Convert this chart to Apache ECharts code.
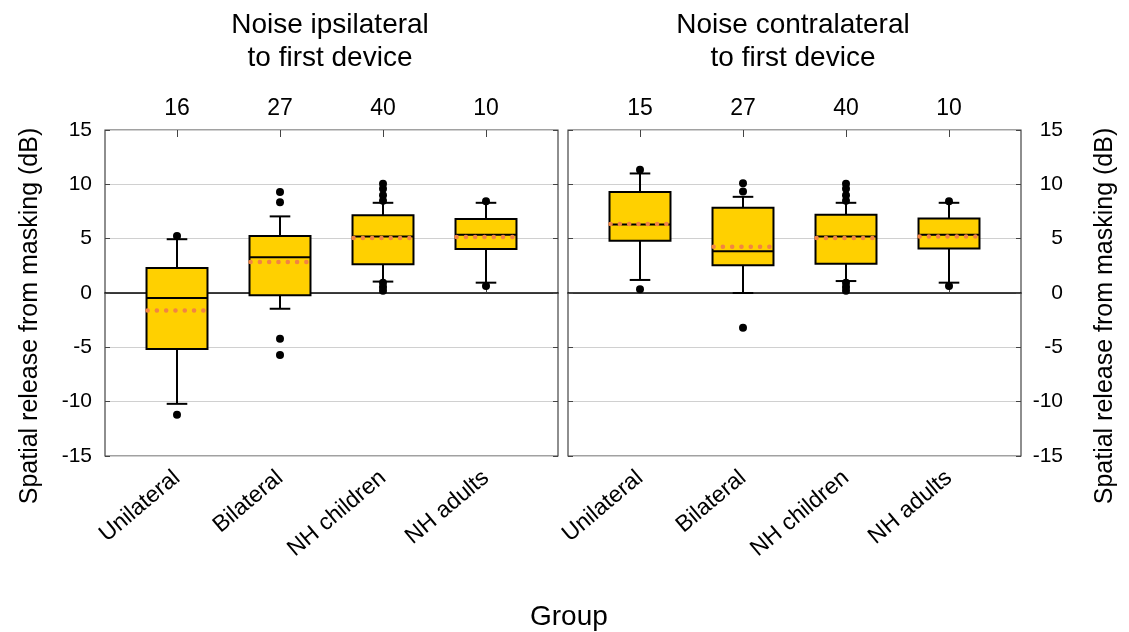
<!DOCTYPE html>
<html>
<head>
<meta charset="utf-8">
<script src="https://cdn.jsdelivr.net/npm/echarts@6/dist/echarts.min.js"></script>
<style>
  html, body { margin: 0; padding: 0; background: #fff; }
  #chart { width: 1129px; height: 632px; }
</style>
</head>
<body>
<div id="chart"></div>
<script>
// groups on the x axis
const categories = ['Unilateral', 'Bilateral', 'NH children', 'NH adults'];

// n per group, shown above each panel
const ipsiCounts = ['16', '27', '40', '10'];
const contraCounts = ['15', '27', '40', '10'];

// y axis ticks
const yTicks = [-15, -10, -5, 0, 5, 10, 15];

// box rows: [lower whisker, q1, median, q3, upper whisker]
const ipsiBoxes = [
  [-10.2, -5.15, -0.45, 2.3, 4.95],
  [-1.45, -0.2, 3.3, 5.25, 7.05],
  [1.05, 2.65, 5.2, 7.15, 8.3],
  [0.95, 4.05, 5.35, 6.8, 8.3],
];
const ipsiMeans = [-1.6, 2.85, 5.05, 5.15];
const ipsiOutliers = [
  [0, 5.25], [0, -11.2],
  [1, 9.3], [1, 8.35], [1, -4.2], [1, -5.7],
  [2, 10.05], [2, 9.6], [2, 9.0], [2, 8.5], [2, 0.95], [2, 0.55], [2, 0.2],
  [3, 8.45], [3, 0.65],
];

const contraBoxes = [
  [1.2, 4.8, 6.3, 9.3, 11.0],
  [0, 2.55, 3.85, 7.85, 8.85],
  [1.1, 2.7, 5.2, 7.2, 8.3],
  [0.95, 4.1, 5.35, 6.85, 8.3],
];
const contraMeans = [6.35, 4.25, 5.05, 5.2];
const contraOutliers = [
  [0, 11.35], [0, 0.35],
  [1, 10.1], [1, 9.35], [1, -3.2],
  [2, 10.05], [2, 9.6], [2, 9.0], [2, 8.5], [2, 0.95], [2, 0.55], [2, 0.2],
  [3, 8.45], [3, 0.65],
];

const FONT = "'Liberation Sans', Arial, sans-serif";
const BORDER = '#444';

const chart = echarts.init(document.getElementById('chart'));

// box + whiskers + median + dotted mean
function renderBox(params, api) {
  const i = api.value(0);
  const y = (d) => api.coord([i, api.value(d)])[1];
  const cx = api.coord([i, 0])[0];
  const band = api.size([1, 0])[0];
  const half = band * 0.296;
  const capHalf = band * 0.1;
  const yLo = y(1), yQ1 = y(2), yMed = y(3), yQ3 = y(4), yHi = y(5), yMean = y(6);
  const stroke = { stroke: '#000', lineWidth: 2 };
  return {
    type: 'group',
    children: [
      { type: 'line', shape: { x1: cx, y1: yHi, x2: cx, y2: yQ3 }, style: stroke },
      { type: 'line', shape: { x1: cx, y1: yQ1, x2: cx, y2: yLo }, style: stroke },
      { type: 'line', shape: { x1: cx - capHalf, y1: yHi, x2: cx + capHalf, y2: yHi }, style: stroke },
      { type: 'line', shape: { x1: cx - capHalf, y1: yLo, x2: cx + capHalf, y2: yLo }, style: stroke },
      {
        type: 'rect',
        shape: { x: cx - half, y: yQ3, width: half * 2, height: yQ1 - yQ3 },
        style: { fill: '#ffd000', stroke: '#000', lineWidth: 2 },
      },
      { type: 'line', shape: { x1: cx - half, y1: yMed, x2: cx + half, y2: yMed }, style: stroke },
      {
        type: 'line',
        shape: { x1: cx - half + 1, y1: yMean, x2: cx + half, y2: yMean },
        style: { stroke: '#f28442', lineWidth: 4.5, lineDash: [0.1, 9.2], lineCap: 'round' },
      },
    ],
  };
}

const boxRows = (boxes, means) => boxes.map((b, i) => [i, ...b, means[i]]);

const frameGrid = (left) => ({
  left, top: 130, width: 453, height: 326,
  show: true, borderColor: BORDER, borderWidth: 1.2, backgroundColor: '#fff',
});
const dataGrid = (left) => ({ left, top: 130, width: 412, height: 326 });

// frame x axis: only draws the black zero line
const zeroAxis = (gridIndex) => ({
  type: 'value', gridIndex, min: 0, max: 1,
  axisLine: { show: true, onZero: true, lineStyle: { color: '#000', width: 1.5 } },
  axisTick: { show: false }, axisLabel: { show: false }, splitLine: { show: false },
});

const catAxis = (gridIndex) => ({
  type: 'category', gridIndex, data: categories, position: 'bottom',
  axisLine: { show: false },
  axisTick: { show: true, inside: true, alignWithLabel: true, length: 4, lineStyle: { color: BORDER } },
  axisLabel: { rotate: 40, margin: 19, fontSize: 23, color: '#000', fontFamily: FONT, interval: 0 },
});

const countAxis = (gridIndex, counts) => ({
  type: 'category', gridIndex, data: counts, position: 'top',
  axisLine: { show: false },
  axisTick: { show: true, inside: true, alignWithLabel: true, length: 7, lineStyle: { color: BORDER } },
  axisLabel: { margin: 10, fontSize: 23, color: '#000', fontFamily: FONT, interval: 0 },
});

const yName = 'Spatial release from masking (dB)';

const frameY = (gridIndex, position, withLabels, extra) => Object.assign({
  type: 'value', gridIndex, position, min: -15, max: 15, interval: 5,
  axisLine: { show: false },
  axisTick: { show: true, inside: true, length: 5, lineStyle: { color: BORDER } },
  axisLabel: {
    show: withLabels, fontSize: 21, color: '#000', fontFamily: FONT,
    formatter: (v) => (yTicks.includes(v) ? String(v) : ''),
  },
  splitLine: { show: withLabels, lineStyle: { color: '#d0d0d0', width: 1 } },
}, extra);

const hiddenY = (gridIndex) => ({ type: 'value', gridIndex, min: -15, max: 15, show: false });

const titleStyle = { fontSize: 28, fontWeight: 'normal', color: '#000', fontFamily: FONT, lineHeight: 33 };

const option = {
  animation: false,
  backgroundColor: '#fff',
  title: [
    { text: 'Noise ipsilateral\nto first device', left: 325, top: 4, textAlign: 'center', textStyle: titleStyle },
    { text: 'Noise contralateral\nto first device', left: 788, top: 4, textAlign: 'center', textStyle: titleStyle },
    { text: 'Group', left: 525, top: 596, textStyle: titleStyle },
  ],
  grid: [frameGrid(105), dataGrid(125.5), frameGrid(568), dataGrid(588.5)],
  xAxis: [
    zeroAxis(0), catAxis(1), countAxis(1, ipsiCounts),
    zeroAxis(2), catAxis(3), countAxis(3, contraCounts),
  ],
  yAxis: [
    frameY(0, 'left', true, {
      name: yName, nameLocation: 'middle', nameGap: 62, nameRotate: 90,
      nameTextStyle: { fontSize: 25, color: '#000', fontFamily: FONT, padding: [0, 46, 0, 0] },
      axisLabel: { show: true, margin: 13, fontSize: 21, color: '#000', fontFamily: FONT },
    }),
    frameY(0, 'right', false),
    hiddenY(1),
    frameY(2, 'left', false),
    frameY(2, 'right', true, {
      name: yName, nameLocation: 'middle', nameGap: 72, nameRotate: 90,
      nameTextStyle: { fontSize: 25, color: '#000', fontFamily: FONT, padding: [0, 46, 0, 0] },
      axisLabel: { show: true, margin: 42, align: 'right', fontSize: 21, color: '#000', fontFamily: FONT },
    }),
    hiddenY(3),
  ],
  series: [
    {
      type: 'custom', xAxisIndex: 1, yAxisIndex: 2,
      renderItem: renderBox, data: boxRows(ipsiBoxes, ipsiMeans),
      encode: { x: 0, y: [1, 2, 3, 4, 5, 6] }, z: 3,
    },
    {
      type: 'scatter', xAxisIndex: 1, yAxisIndex: 2,
      data: ipsiOutliers, symbolSize: 8, itemStyle: { color: '#000', opacity: 1 }, z: 4,
    },
    {
      type: 'custom', xAxisIndex: 4, yAxisIndex: 5,
      renderItem: renderBox, data: boxRows(contraBoxes, contraMeans),
      encode: { x: 0, y: [1, 2, 3, 4, 5, 6] }, z: 3,
    },
    {
      type: 'scatter', xAxisIndex: 4, yAxisIndex: 5,
      data: contraOutliers, symbolSize: 8, itemStyle: { color: '#000', opacity: 1 }, z: 4,
    },
  ],
};

chart.setOption(option);
</script>
</body>
</html>
